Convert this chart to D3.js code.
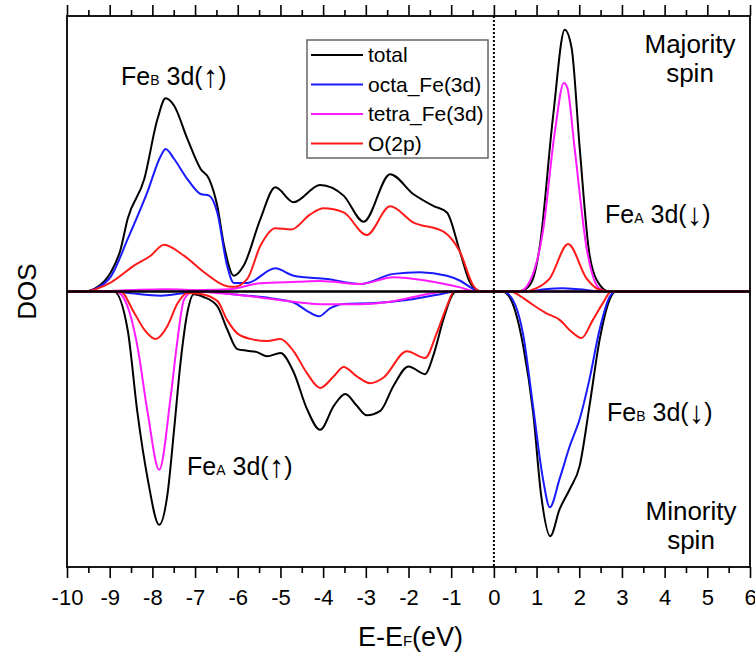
<!DOCTYPE html>
<html>
<head>
<meta charset="utf-8">
<script src="https://cdn.jsdelivr.net/npm/d3@7"></script>
<style>
  html, body { margin: 0; padding: 0; background: #fff; }
  svg { display: block; font-family: "Liberation Sans", Arial, sans-serif; }
</style>
</head>
<body>
<svg id="chart" width="755" height="657"></svg>
<script>
// ---------------- DATA (energy eV, DOS arbitrary units) ----------------
const seriesNames = ["total", "octa_Fe(3d)", "tetra_Fe(3d)", "O(2p)"];
const seriesColors = ["#000000", "#1a1aff", "#ff1aff", "#ff1a1a"];
const xTickValues = [-10, -9, -8, -7, -6, -5, -4, -3, -2, -1, 0, 1, 2, 3, 4, 5, 6];
const xMinorTickValues = [-9.5, -8.5, -7.5, -6.5, -5.5, -4.5, -3.5, -2.5, -1.5, -0.5, 0.5, 1.5, 2.5, 3.5, 4.5, 5.5];

// majority spin (positive)
const totalUp = [[-10,0],[-9.6,0],[-9.3,0.15],[-8.97,0.71],[-8.75,1.5],[-8.58,2.63],[-8.19,4.08],[-7.88,6.26],[-7.69,7.01],[-7.49,6.74],[-7.18,5.54],[-6.87,4.45],[-6.67,4.08],[-6.48,3.11],[-6.32,1.66],[-6.09,0.57],[-5.86,0.94],[-5.47,2.63],[-5.12,3.78],[-4.69,3.24],[-4.07,3.87],[-3.52,3.48],[-3.05,2.53],[-2.43,4.26],[-1.89,3.54],[-1.42,3.11],[-1.10,2.87],[-0.79,1.42],[-0.56,0.33],[-0.33,0.02],[0.5,0],[0.69,0.05],[0.9,0.4],[1.07,1.58],[1.39,6.4],[1.66,9.5],[1.82,8.85],[2.01,5.22],[2.24,1.34],[2.48,0.24],[2.7,0],[6,0]];
const octaUp = [[-10,0],[-9.6,0],[-9.3,0.12],[-8.97,0.55],[-8.58,1.9],[-8.12,3.6],[-7.80,4.93],[-7.69,5.17],[-7.49,4.81],[-7.18,4.08],[-6.87,3.54],[-6.67,3.48],[-6.48,2.87],[-6.25,0.94],[-6.09,0.31],[-5.78,0.31],[-5.12,0.84],[-4.69,0.57],[-3.91,0.45],[-3.13,0.27],[-2.35,0.64],[-1.73,0.70],[-1.10,0.57],[-0.79,0.39],[-0.48,0.09],[-0.3,0],[0.8,0],[1.2,0.08],[1.6,0.12],[2.0,0.08],[2.5,0],[6,0]];
const tetraUp = [[-10,0],[-9.4,0],[-8.5,0.05],[-7.7,0.08],[-6.8,0.05],[-6.2,0.08],[-5.47,0.3],[-4.6,0.35],[-4.07,0.38],[-3.13,0.27],[-2.35,0.52],[-1.57,0.39],[-0.79,0.15],[-0.4,0],[0.6,0],[0.84,0.36],[1.15,2.2],[1.43,5.82],[1.64,7.57],[1.72,7.4],[1.89,5.22],[2.17,1.6],[2.48,0.1],[2.7,0],[6,0]];
const oxyUp = [[-10,0],[-9.6,0],[-8.97,0.33],[-8.43,0.94],[-8.04,1.30],[-7.73,1.70],[-7.26,1.30],[-6.79,0.70],[-6.25,0.19],[-6.09,0.17],[-5.78,0.45],[-5.47,1.66],[-5.12,2.3],[-4.75,2.25],[-4.3,2.8],[-3.99,3.02],[-3.52,2.87],[-2.98,2.05],[-2.43,3.09],[-1.89,2.51],[-1.18,2.17],[-0.79,1.42],[-0.48,0.21],[-0.3,0],[0.7,0],[1.0,0.12],[1.31,0.48],[1.74,1.72],[2.17,0.48],[2.45,0.08],[2.7,0],[6,0]];

// minority spin (negative)
const totalDown = [[-10,0],[-8.9,0],[-8.58,-1.38],[-8.35,-4.4],[-8.11,-6.8],[-7.84,-8.47],[-7.65,-7.4],[-7.49,-4.99],[-7.34,-2.57],[-7.18,-0.76],[-7.03,-0.1],[-6.8,-0.2],[-6.48,-0.53],[-6.25,-1.36],[-6.01,-2.09],[-5.78,-2.15],[-5.55,-2.2],[-5.31,-2.35],[-5.0,-2.23],[-4.69,-2.93],[-4.38,-4.26],[-4.07,-5.02],[-3.75,-4.15],[-3.48,-3.72],[-3.21,-4.15],[-2.98,-4.49],[-2.66,-4.33],[-2.35,-3.42],[-2.0,-2.72],[-1.61,-3.0],[-1.42,-2.33],[-1.18,-1.0],[-0.99,-0.17],[-0.89,0],[0.2,0],[0.4,-0.3],[0.69,-2.0],[0.92,-4.4],[1.11,-7.43],[1.32,-8.88],[1.54,-7.9],[1.78,-7.17],[2.01,-6.33],[2.24,-4.15],[2.48,-1.73],[2.71,-0.3],[2.85,0],[6,0]];
const octaDown = [[-10,0],[-9.0,0],[-8.6,-0.05],[-7.8,-0.15],[-7.2,-0.05],[-6.8,0],[-6.0,-0.12],[-5.2,-0.25],[-4.69,-0.4],[-4.38,-0.7],[-4.1,-0.9],[-3.83,-0.6],[-3.52,-0.45],[-2.8,-0.42],[-2.0,-0.3],[-1.2,-0.08],[-0.9,0],[0.2,0],[0.4,-0.2],[0.69,-1.6],[0.92,-4.2],[1.15,-6.8],[1.31,-7.83],[1.54,-6.8],[1.78,-5.6],[2.01,-4.63],[2.24,-3.18],[2.48,-1.36],[2.71,-0.2],[2.85,0],[6,0]];
const tetraDown = [[-10,0],[-8.85,0],[-8.58,-0.55],[-8.35,-1.99],[-8.11,-4.4],[-7.84,-6.47],[-7.57,-3.8],[-7.41,-1.74],[-7.26,-0.3],[-7.05,0],[-6.5,-0.05],[-6.0,-0.12],[-5.08,-0.3],[-4.07,-0.46],[-3.13,-0.46],[-2.35,-0.35],[-1.57,-0.1],[-1.1,0],[6,0]];
const oxyDown = [[-10,0],[-8.75,0],[-8.43,-0.76],[-8.19,-1.38],[-7.92,-1.72],[-7.65,-1.26],[-7.41,-0.43],[-7.18,-0.05],[-6.9,-0.08],[-6.48,-0.34],[-6.25,-1.03],[-6.01,-1.52],[-5.7,-1.72],[-5.31,-1.8],[-5.0,-1.72],[-4.69,-2.17],[-4.38,-2.96],[-4.07,-3.5],[-3.75,-3.08],[-3.52,-2.74],[-3.21,-3.08],[-2.9,-3.33],[-2.59,-3.13],[-2.04,-2.17],[-1.61,-2.41],[-1.34,-1.52],[-1.1,-0.53],[-0.93,0],[0.4,0],[0.6,-0.15],[0.92,-0.49],[1.23,-0.79],[1.54,-1.03],[1.81,-1.45],[2.05,-1.69],[2.32,-1.03],[2.55,-0.43],[2.75,0],[6,0]];

// ---------------- DRAWING ----------------
const svg = d3.select("#chart");
const L = 67, R = 750, T = 16, B = 567;
const x = d3.scaleLinear().domain([-10, 6]).range([L, R]);
const y = d3.scaleLinear().domain([-10, 10]).range([B, T]);

const line = d3.line().x(d => x(d[0])).y(d => y(d[1])).curve(d3.curveMonotoneX);

const seriesData = [
  [totalUp, totalDown],
  [octaUp, octaDown],
  [tetraUp, tetraDown],
  [oxyUp, oxyDown]
];

const curves = svg.append("g");
seriesData.forEach((pair, i) => {
  pair.forEach(data => {
    curves.append("path")
      .datum(data)
      .attr("d", line)
      .attr("fill", "none")
      .attr("stroke", seriesColors[i])
      .attr("stroke-width", 2)
      .attr("stroke-linejoin", "round");
  });
});

// zero line
svg.append("line")
  .attr("x1", x(-10)).attr("x2", x(6))
  .attr("y1", y(0)).attr("y2", y(0))
  .attr("stroke", "#000").attr("stroke-width", 2.5);

// Fermi level dotted line
svg.append("line")
  .attr("x1", x(0)).attr("x2", x(0))
  .attr("y1", T).attr("y2", B)
  .attr("stroke", "#000").attr("stroke-width", 2)
  .attr("stroke-dasharray", "2,2");

// axes
const fmt = d => String(d);
const bottomMajor = svg.append("g").attr("transform", `translate(0,${B})`)
  .call(d3.axisBottom(x).tickValues(xTickValues).tickSize(11).tickFormat(fmt));
bottomMajor.select(".domain").remove();
bottomMajor.selectAll("line").attr("stroke-width", 1.6);
bottomMajor.selectAll("text")
  .attr("y", 38).attr("dy", 0)
  .attr("font-size", 22)
  .attr("font-family", "'Liberation Sans', Arial, sans-serif")
  .attr("fill", "#000");

const bottomMinor = svg.append("g").attr("transform", `translate(0,${B})`)
  .call(d3.axisBottom(x).tickValues(xMinorTickValues).tickSize(6).tickFormat(""));
bottomMinor.select(".domain").remove();
bottomMinor.selectAll("line").attr("stroke-width", 1.6);

const topMajor = svg.append("g").attr("transform", `translate(0,${T})`)
  .call(d3.axisTop(x).tickValues(xTickValues).tickSize(11).tickFormat(""));
topMajor.select(".domain").remove();
topMajor.selectAll("line").attr("stroke-width", 1.6);
const topMinor = svg.append("g").attr("transform", `translate(0,${T})`)
  .call(d3.axisTop(x).tickValues(xMinorTickValues).tickSize(6).tickFormat(""));
topMinor.select(".domain").remove();
topMinor.selectAll("line").attr("stroke-width", 1.6);

// frame
svg.append("rect")
  .attr("x", L).attr("y", T).attr("width", R - L).attr("height", B - T)
  .attr("fill", "none").attr("stroke", "#000").attr("stroke-width", 1.8);

// axis titles
const xt = svg.append("text")
  .attr("x", (L + R) / 2 + 2).attr("y", 646)
  .attr("text-anchor", "middle").attr("font-size", 27).attr("fill", "#000");
xt.append("tspan").text("E-E");
xt.append("tspan").attr("font-size", 15).text("F");
xt.append("tspan").text("(eV)");

svg.append("text")
  .attr("transform", `translate(36,${y(0)}) rotate(-90)`)
  .attr("text-anchor", "middle").attr("font-size", 26).attr("fill", "#000")
  .text("DOS");

// legend
const lg = svg.append("g");
lg.append("rect").attr("x", 307).attr("y", 40).attr("width", 181).attr("height", 118)
  .attr("fill", "#fff").attr("stroke", "#666").attr("stroke-width", 1.5);
seriesNames.forEach((name, i) => {
  const ly = 55 + i * 29.5;
  lg.append("line").attr("x1", 311).attr("x2", 363).attr("y1", ly).attr("y2", ly)
    .attr("stroke", seriesColors[i]).attr("stroke-width", 2);
  lg.append("text").attr("x", 368).attr("y", ly + 7).attr("font-size", 21).attr("fill", "#000").text(name);
});

// annotations
function feLabel(px, py, sub, arrow) {
  const t = svg.append("text").attr("x", px).attr("y", py).attr("font-size", 25).attr("fill", "#000");
  t.append("tspan").text("Fe");
  t.append("tspan").attr("font-size", 14).text(sub);
  t.append("tspan").text(" 3d(");
  t.append("tspan").attr("font-size", 31).attr("dy", 2).text(arrow);
  t.append("tspan").attr("dy", -2).text(")");
}
feLabel(121, 85, "B", "\u2191");
feLabel(605, 223, "A", "\u2193");
feLabel(607, 421, "B", "\u2193");
feLabel(187, 475, "A", "\u2191");

function spinLabel(cx, y1, word) {
  svg.append("text").attr("x", cx).attr("y", y1).attr("text-anchor", "middle")
    .attr("font-size", 26).attr("fill", "#000").text(word);
  svg.append("text").attr("x", cx).attr("y", y1 + 29).attr("text-anchor", "middle")
    .attr("font-size", 26).attr("fill", "#000").text("spin");
}
spinLabel(690, 53, "Majority");
spinLabel(691, 520, "Minority");
</script>
</body>
</html>
